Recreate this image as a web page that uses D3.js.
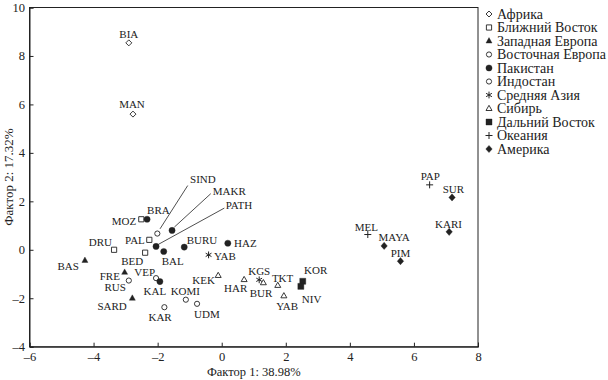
<!DOCTYPE html>
<html><head><meta charset="utf-8">
<script src="https://cdn.jsdelivr.net/npm/d3@7"></script>
<style>
body{margin:0;background:#fff;}
svg{display:block;}
text{font-family:"Liberation Serif","Times New Roman",serif;fill:#222;}
</style></head>
<body>
<svg id="chart" width="608" height="380"></svg>
<script>
// ---- data ----
const groups = ["Африка","Ближний Восток","Западная Европа","Восточная Европа","Пакистан","Индостан","Средняя Азия","Сибирь","Дальний Восток","Океания","Америка"];
const pointLabels = ["BIA","MAN","MOZ","DRU","PAL","BED","BAS","FRE","SARD","RUS","VEP","KOMI","UDM","KAR","BRA","MAKR","PATH","BAL","BURU","HAZ","KAL","SIND","YAB","KGS","KEK","HAR","BUR","TKT","YAB","KOR","NIV","PAP","MEL","SUR","KARI","MAYA","PIM"];
const pointGroup  = [0,0,1,1,1,1,2,2,2,3,3,3,3,3,4,4,4,4,4,4,4,5,6,6,7,7,7,7,7,8,8,9,9,10,10,10,10];
const factor1 = [-2.90,-2.77,-2.51,-3.36,-2.26,-2.39,-4.27,-3.03,-2.79,-2.90,-2.05,-1.12,-0.77,-1.79,-2.33,-1.55,-2.05,-1.81,-1.17,0.19,-1.93,-2.01,-0.41,1.17,-0.11,0.70,1.30,1.75,1.94,2.53,2.47,6.49,4.56,7.19,7.10,5.07,5.58];
const factor2 = [8.54,5.60,1.26,0.00,0.41,-0.12,-0.44,-0.93,-2.00,-1.27,-1.17,-2.06,-2.23,-2.37,1.26,0.80,0.14,-0.07,0.11,0.27,-1.31,0.67,-0.21,-1.24,-1.06,-1.23,-1.36,-1.47,-1.90,-1.30,-1.51,2.68,0.63,2.16,0.74,0.16,-0.47];
const xTicks = [-6,-4,-2,0,2,4,6,8];
const yTicks = [-4,-2,0,2,4,6,8,10];
const xTitle = "Фактор 1: 38.98%";
const yTitle = "Фактор 2: 17.32%";

// ---- layout (label placement: [dx, dy, anchor, leader]) ----
const labelPlacement = {
 BIA:[0,-8.5,"middle"], MAN:[-1,-9.5,"middle"], MOZ:[-5,1.5,"end"], DRU:[-2,-7.5,"end"],
 PAL:[-4.5,0,"end"], BED:[-2,8.7,"end"], BAS:[-6,5.5,"end"], FRE:[-4.7,3.7,"end"],
 SARD:[-5.6,8.3,"end"], RUS:[-3,6.7,"end"], VEP:[-1,-6,"end"], KOMI:[-0.5,-8.6,"middle"],
 UDM:[-3,10,"start"], KAR:[-4.3,10,"middle"], BRA:[0,-8.7,"start"],
 MAKR:[40.7,-39.3,"start",[38.7,-36.7,2.3,-3.3]], PATH:[69.7,-41,"start",[68.3,-38.3,2.3,-2]],
 BAL:[-2,10,"start"], BURU:[2.4,-7.4,"start"], HAZ:[6.3,0,"start"], KAL:[-5,10,"middle"],
 SIND:[32.7,-54,"start",[30.4,-48,2.7,-4.7]], YAB0:[5.3,1.4,"start"], KGS:[0,-8.6,"middle"],
 KEK:[-3.3,4.3,"end"], HAR:[-8.5,8.3,"middle"], BUR:[-2.4,10.4,"middle"], TKT:[4.8,-7.7,"middle"],
 YAB1:[3.3,10.7,"middle"], KOR:[1.3,-11.4,"start"], NIV:[1,12.3,"start"], PAP:[0.7,-8.3,"middle"],
 MEL:[-1.4,-7.3,"middle"], SUR:[1.3,-8,"middle"], KARI:[-0.7,-8,"middle"], MAYA:[-5.7,-8.6,"start"],
 PIM:[0,-8.4,"middle"]
};

const svg = d3.select("#chart");
const L = 29.5, R = 478, T = 7.5, B = 346.7;
const x = d3.scaleLinear().domain([-6,8]).range([L,R]);
const y = d3.scaleLinear().domain([-4,10]).range([B,T]);
const ink = "#222";
const fmt = d => d < 0 ? "\u2013" + Math.abs(d) : String(d);

// frame
svg.append("rect").attr("x",L).attr("y",T).attr("width",R-L).attr("height",B-T)
  .attr("fill","none").attr("stroke",ink).attr("stroke-width",1);

const gx = svg.append("g").attr("transform",`translate(0,${B})`)
  .call(d3.axisBottom(x).tickValues(xTicks).tickSize(-4).tickPadding(5).tickFormat(fmt));
const gy = svg.append("g").attr("transform",`translate(${L},0)`)
  .call(d3.axisLeft(y).tickValues(yTicks).tickSize(-4).tickPadding(4.5).tickFormat(fmt));
[gx,gy].forEach(g=>{
  g.attr("font-family",null);
  g.select(".domain").attr("stroke",ink);
  g.selectAll(".tick line").attr("stroke",ink);
  g.selectAll(".tick text").attr("fill",ink).style("font-size","12.5px");
});

svg.append("text").attr("x",(L+R)/2).attr("y",376).attr("text-anchor","middle")
  .style("font-size","12.5px").text(xTitle);
svg.append("text").attr("transform",`translate(13,${(T+B)/2}) rotate(-90)`).attr("text-anchor","middle")
  .style("font-size","13px").text(yTitle);

// marker shapes per group (style only)
const shapes = [
  {d:"M0,-3L3,0L0,3L-3,0Z", fill:false},
  {d:"M-2.6,-2.6H2.6V2.6H-2.6Z", fill:false},
  {d:"M0,-3.4L3,2L-3,2Z", fill:true},
  {circle:2.6, fill:false},
  {circle:3.1, fill:true},
  {circle:2.6, fill:false},
  {d:"M0,-3.4V3.4M-2.9,-1.7L2.9,1.7M-2.9,1.7L2.9,-1.7", line:true},
  {d:"M0,-3.2L3,2L-3,2Z", fill:false},
  {d:"M-3,-3H3V3H-3Z", fill:true},
  {d:"M0,-3.5V3.5M-3.5,0H3.5", line:true},
  {d:"M0,-3.6L3.2,0L0,3.6L-3.2,0Z", fill:true}
];
function drawSym(g, gi){
  const s = shapes[gi];
  let el = s.circle ? g.append("circle").attr("r",s.circle) : g.append("path").attr("d",s.d);
  if (s.line) el.attr("fill","none").attr("stroke",ink).attr("stroke-width",1);
  else el.attr("fill", s.fill ? ink : "#fff").attr("stroke",ink).attr("stroke-width", s.fill ? 0.4 : 0.9);
}

let yabCount = 0;
pointLabels.forEach((lab,i)=>{
  const px = x(factor1[i]), py = y(factor2[i]);
  const key = lab==="YAB" ? "YAB"+(yabCount++) : lab;
  const p = labelPlacement[key];
  if (p[3]) {
    svg.append("line").attr("x1",px+p[3][0]).attr("y1",py+p[3][1]).attr("x2",px+p[3][2]).attr("y2",py+p[3][3])
      .attr("stroke",ink).attr("stroke-width",0.8);
  }
  const g = svg.append("g").attr("transform",`translate(${px},${py})`);
  drawSym(g, pointGroup[i]);
  svg.append("text").attr("x",px+p[0]).attr("y",py+p[1]).attr("dy","0.35em")
    .attr("text-anchor",p[2]).style("font-size","11px").text(lab);
});

// legend
groups.forEach((name,i)=>{
  const ly = 14 + i*13.5;
  const g = svg.append("g").attr("transform",`translate(489,${ly})`);
  drawSym(g,i);
  svg.append("text").attr("x",497).attr("y",ly).attr("dy","0.35em").style("font-size","14px").text(name);
});
</script>
</body></html>
